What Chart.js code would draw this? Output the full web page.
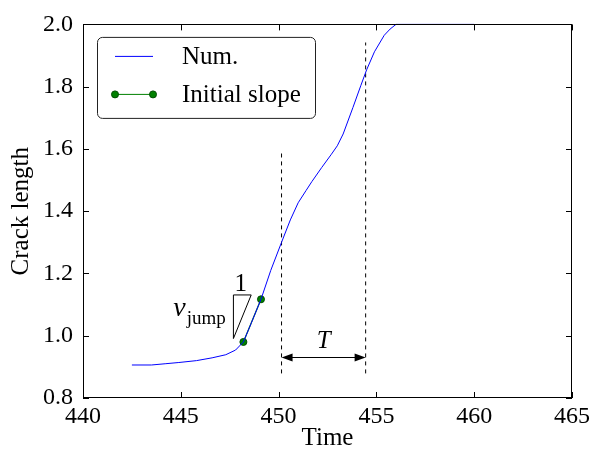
<!DOCTYPE html>
<html><head><meta charset="utf-8">
<script src="https://cdn.jsdelivr.net/npm/chart.js@4/dist/chart.umd.min.js"></script>
<style>html,body{margin:0;padding:0;background:#fff}canvas{display:block}</style>
</head><body>
<canvas id="c" width="594" height="455"></canvas>
<script>
// ---- data ----
const timeNum   = [442.5, 443.5, 444.2, 444.9, 445.8, 446.6, 447.3, 447.8, 448.2, 448.6, 449.1, 449.6, 450.15, 450.6, 451.0, 451.4, 451.7, 452.2, 452.7, 453.0, 453.3, 453.8, 454.2, 454.5, 454.9, 455.4, 455.7, 456.0, 460.0];
const lengthNum = [0.906, 0.906, 0.910, 0.914, 0.920, 0.929, 0.939, 0.954, 0.980, 1.040, 1.117, 1.210, 1.300, 1.372, 1.427, 1.466, 1.495, 1.540, 1.583, 1.610, 1.648, 1.733, 1.803, 1.854, 1.912, 1.965, 1.985, 2.000, 2.000];
const slopeTime   = [448.2, 449.1];
const slopeLength = [0.980, 1.117];
const periodTime  = [450.15, 454.45];          // dashed lines (start / end of T)
const dashLow     = [0.879, 0.879];
const dashHigh    = [1.585, 1.942];
const arrowLevel  = 0.933;
const triTime   = [447.69, 448.60, 447.69, 447.69];
const triLength = [1.131, 1.131, 0.991, 1.131];
const xTicks = [440, 445, 450, 455, 460, 465];
const yTicks = [0.8, 1.0, 1.2, 1.4, 1.6, 1.8, 2.0];
const seriesNames = ['Num.', 'Initial slope'];
const xTitle = 'Time', yTitle = 'Crack length';

const SERIF = '"Liberation Serif", "DejaVu Serif", serif';
Chart.defaults.font.family = SERIF;
Chart.defaults.color = '#000';
const pts = (xs, ys) => xs.map((x, i) => ({x, y: ys[i]}));

const overlay = {
  id: 'overlay',
  afterDraw(chart) {
    const {ctx, chartArea: ca, scales: {x, y}} = chart;
    ctx.save();
    // frame
    ctx.strokeStyle = '#000'; ctx.lineWidth = 1;
    ctx.strokeRect(Math.round(ca.left) + 0.5, Math.round(ca.top) + 0.5, Math.round(ca.right - ca.left) - 1, Math.round(ca.bottom - ca.top) - 1);
    // inward ticks
    ctx.beginPath();
    xTicks.forEach(v => {
      const p = Math.round(x.getPixelForValue(v)) + 0.5;
      ctx.moveTo(p, ca.bottom); ctx.lineTo(p, ca.bottom - 6);
      ctx.moveTo(p, ca.top); ctx.lineTo(p, ca.top + 6);
    });
    yTicks.forEach(v => {
      const p = Math.round(y.getPixelForValue(v)) + 0.5;
      ctx.moveTo(ca.left, p); ctx.lineTo(ca.left + 6, p);
      ctx.moveTo(ca.right, p); ctx.lineTo(ca.right - 6, p);
    });
    ctx.stroke();

    // arrow for T
    const ax1 = x.getPixelForValue(periodTime[0]), ax2 = x.getPixelForValue(periodTime[1]);
    const ay = Math.round(y.getPixelForValue(arrowLevel)) + 0.5;
    ctx.fillStyle = '#000';
    ctx.beginPath(); ctx.moveTo(ax1 + 6, ay); ctx.lineTo(ax2 - 6, ay); ctx.stroke();
    ctx.beginPath(); ctx.moveTo(ax1, ay); ctx.lineTo(ax1 + 11, ay - 4); ctx.lineTo(ax1 + 11, ay + 4); ctx.closePath(); ctx.fill();
    ctx.beginPath(); ctx.moveTo(ax2, ay); ctx.lineTo(ax2 - 11, ay - 4); ctx.lineTo(ax2 - 11, ay + 4); ctx.closePath(); ctx.fill();
    ctx.font = 'italic 25px ' + SERIF; ctx.textAlign = 'center'; ctx.textBaseline = 'alphabetic';
    ctx.fillText('T', (ax1 + ax2) / 2, y.getPixelForValue(0.961));

    // slope triangle labels
    ctx.font = '25px ' + SERIF;
    ctx.fillText('1', x.getPixelForValue(448.06), y.getPixelForValue(1.145));
    const right = x.getPixelForValue(447.3);
    ctx.font = '19px ' + SERIF;
    const wj = ctx.measureText('jump').width;
    ctx.textAlign = 'left';
    ctx.fillText('jump', right - wj, y.getPixelForValue(1.037));
    ctx.font = 'italic 28px ' + SERIF;
    const wv = ctx.measureText('v').width;
    ctx.fillText('v', right - wj - wv - 1, y.getPixelForValue(1.063));

    // legend
    const lx = ca.left + 14, ly = ca.top + 12.5, lw = 218, lh = 81;
    ctx.beginPath();
    if (ctx.roundRect) ctx.roundRect(lx + 0.5, ly + 0.5, lw, lh, 5); else ctx.rect(lx + 0.5, ly + 0.5, lw, lh);
    ctx.fillStyle = '#fff'; ctx.fill();
    ctx.strokeStyle = '#222'; ctx.lineWidth = 1; ctx.stroke();
    const sx1 = lx + 18, sx2 = lx + 56, tx = lx + 85;
    const r1 = ly + 19, r2 = ly + 57;
    ctx.strokeStyle = '#0000ff'; ctx.beginPath(); ctx.moveTo(sx1, r1 + 0.5); ctx.lineTo(sx2, r1 + 0.5); ctx.stroke();
    ctx.strokeStyle = '#008000'; ctx.beginPath(); ctx.moveTo(sx1, r2 + 0.5); ctx.lineTo(sx2, r2 + 0.5); ctx.stroke();
    [sx1, sx2].forEach(px => {
      ctx.beginPath(); ctx.arc(px, r2 + 0.5, 3.5, 0, Math.PI * 2);
      ctx.fillStyle = '#008000'; ctx.fill(); ctx.strokeStyle = '#004d00'; ctx.stroke();
    });
    ctx.fillStyle = '#000'; ctx.font = '25px ' + SERIF; ctx.textAlign = 'left'; ctx.textBaseline = 'alphabetic';
    ctx.fillText(seriesNames[0], tx, r1 + 8);
    ctx.fillText(seriesNames[1], tx, r2 + 8.5);
    ctx.restore();
  }
};

new Chart(document.getElementById('c'), {
  type: 'scatter',
  data: {
    datasets: [
      {label: seriesNames[0], data: pts(timeNum, lengthNum), showLine: true, borderColor: '#0000ff', borderWidth: 1, pointRadius: 0, tension: 0, clip: 4},
      {label: seriesNames[1], data: pts(slopeTime, slopeLength), showLine: true, borderColor: '#008000', borderWidth: 1.2, pointRadius: 3.5, pointBackgroundColor: '#008000', pointBorderColor: '#004d00', pointBorderWidth: 1},
      {label: 'start', data: pts([periodTime[0], periodTime[0]], [dashLow[0], dashHigh[0]]), showLine: true, borderColor: '#000', borderWidth: 1, borderDash: [4, 4], pointRadius: 0},
      {label: 'end', data: pts([periodTime[1], periodTime[1]], [dashLow[1], dashHigh[1]]), showLine: true, borderColor: '#000', borderWidth: 1, borderDash: [4, 4], pointRadius: 0},
      {label: 'triangle', data: pts(triTime, triLength), showLine: true, borderColor: '#000', borderWidth: 1, pointRadius: 0, tension: 0}
    ]
  },
  options: {
    responsive: false, animation: false, devicePixelRatio: 1,
    layout: {padding: {top: 19, right: 19, left: 0, bottom: 0}},
    plugins: {legend: {display: false}, tooltip: {enabled: false}},
    scales: {
      x: {
        type: 'linear', min: 440, max: 465,
        afterBuildTicks: s => { s.ticks = xTicks.map(v => ({value: v})); },
        afterFit: s => { s.height = 57; },
        grid: {display: false, drawTicks: false}, border: {display: false},
        ticks: {color: '#000', font: {family: SERIF, size: 24}, padding: 4, maxRotation: 0, autoSkip: false, callback: v => String(v)},
        title: {display: true, text: xTitle, color: '#000', font: {family: SERIF, size: 25}, padding: {top: 0, bottom: 2}}
      },
      y: {
        type: 'linear', min: 0.8, max: 2.0,
        afterBuildTicks: s => { s.ticks = yTicks.map(v => ({value: v})); },
        afterFit: s => { s.width = 83; },
        grid: {display: false, drawTicks: false}, border: {display: false},
        ticks: {color: '#000', font: {family: SERIF, size: 24}, padding: 10, autoSkip: false, callback: v => Number(v).toFixed(1)},
        title: {display: true, text: yTitle, color: '#000', font: {family: SERIF, size: 25}, padding: {top: 6, bottom: 0}}
      }
    }
  },
  plugins: [overlay]
});
</script>
</body></html>
